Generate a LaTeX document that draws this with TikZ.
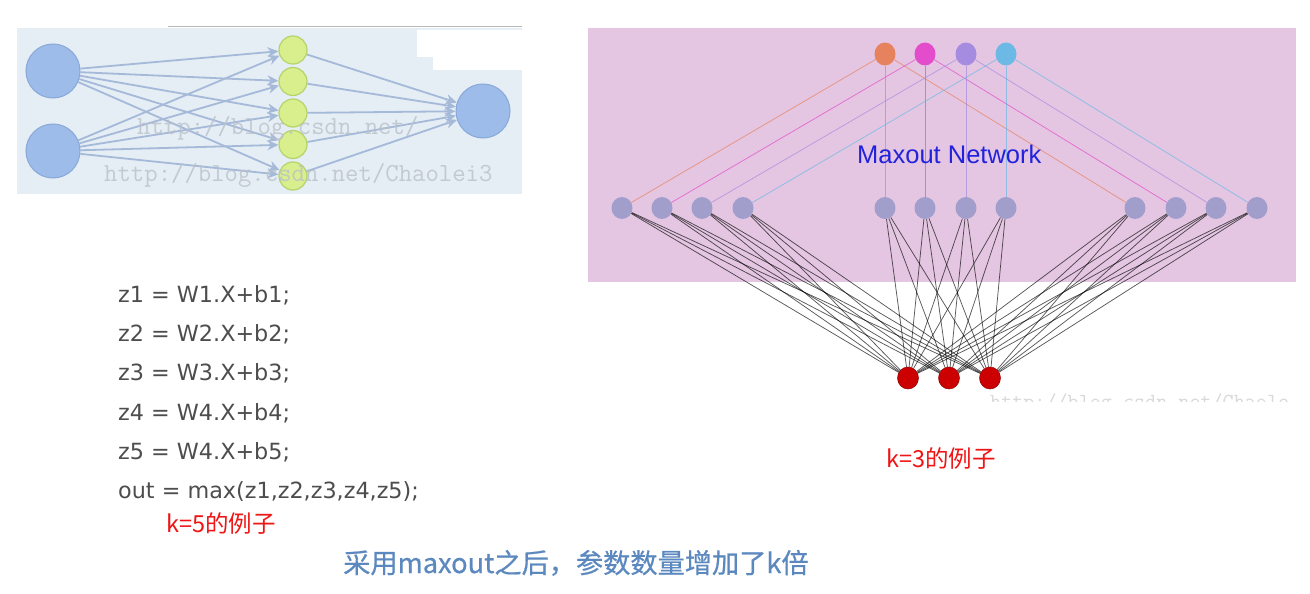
\documentclass[tikz,border=0pt]{standalone}
\usepackage{fontspec}
\setmainfont{DejaVu Sans}
\newfontfamily\cjkfont{Noto Sans CJK SC}
\newfontfamily\cjkbold{Noto Sans CJK SC}[FakeBold=0.6]
\newfontfamily\labelfont{Liberation Sans}
\usetikzlibrary{arrows.meta,shapes.geometric}
\pgfdeclarelayer{back}
\pgfdeclarelayer{edges}
\pgfsetlayers{back,edges,main}
\definecolor{leftbg}{HTML}{E5EDF5}
\definecolor{bluenode}{HTML}{9DBCEA}
\definecolor{bluenodeedge}{HTML}{88A8D8}
\definecolor{greennode}{HTML}{D9EE8C}
\definecolor{greenedge}{HTML}{B4D46A}
\definecolor{arrowcol}{HTML}{A5B9D8}
\definecolor{pinkbg}{HTML}{E4C6E2}
\definecolor{midnode}{HTML}{A19ECB}
\definecolor{cOrange}{HTML}{E7825F}
\definecolor{cMagenta}{HTML}{E34CCB}
\definecolor{cPurple}{HTML}{A58CE0}
\definecolor{cSky}{HTML}{6DB9E6}
\definecolor{rednode}{HTML}{CC0000}
\definecolor{codegray}{HTML}{4D4D4D}
\definecolor{labelred}{HTML}{F01515}
\definecolor{captionblue}{HTML}{5B89BF}
\definecolor{maxoutblue}{HTML}{2222DD}
\definecolor{wm}{HTML}{B9C0C9}
\definecolor{wmright}{HTML}{D9D9D9}
\tikzset{
  bignode/.style={circle,draw=bluenodeedge,fill=bluenode,line width=1pt,minimum size=54pt,inner sep=0pt},
  greenn/.style={circle,draw=greenedge,fill=greennode,line width=1.2pt,minimum size=28pt,inner sep=0pt},
  arr/.style={draw=arrowcol,line width=1.8pt,-{Stealth[length=11pt,width=10pt]}},
  topn/.style={ellipse,minimum width=21pt,minimum height=23pt,inner sep=0pt},
  midn/.style={ellipse,fill=midnode,minimum width=21pt,minimum height=22pt,inner sep=0pt},
  redn/.style={ellipse,fill=rednode,draw=rednode!70!black,line width=0.5pt,minimum width=21pt,minimum height=22pt,inner sep=0pt},
  blackline/.style={draw=black,opacity=0.65,line width=0.75pt},
  colline/.style={line width=0.8pt,opacity=0.7},
  codetext/.style={anchor=base west,inner sep=0pt,text=codegray,font=\fontsize{22.3}{26}\selectfont},
  redlabel/.style={anchor=base west,inner sep=0pt,text=labelred,font=\cjkfont\fontsize{23.5}{28}\selectfont},
  wmtext/.style={anchor=base west,inner sep=0pt,text=wm,opacity=0.8,font=\ttfamily\fontsize{26}{30}\selectfont}
}
\begin{document}
\begin{tikzpicture}[x=1pt,y=-1pt]
\useasboundingbox (0,0) rectangle (1310,594);
\begin{pgfonlayer}{back}
  \fill[white] (0,0) rectangle (1310,594);
  % left panel background
  \fill[leftbg] (17,28) rectangle (522,194);
  \fill[white] (417,30) -- (522,30) -- (522,70) -- (433,70) -- (433,57) -- (417,57) -- cycle;
  \draw[gray!55,line width=1pt] (168,27) -- (522,27);
  % right panel background
  \fill[pinkbg] (588,28) rectangle (1296,282);
\end{pgfonlayer}

% ---------- left network ----------
\node[bignode] (in1) at (53,71) {};
\node[bignode] (in2) at (53,151) {};
\foreach \y [count=\i] in {50,81.5,113,144.5,176}
  \node[greenn] (g\i) at (293,\y) {};
\node[bignode] (out) at (483,111) {};
\begin{pgfonlayer}{edges}
  \foreach \i in {1,...,5} {
    \draw[arr] (in1) -- (g\i);
    \draw[arr] (in2) -- (g\i);
    \draw[arr] (g\i) -- (out);
  }
\end{pgfonlayer}
\node[wmtext] (wm1) at (137,135) {http://blog.csdn.net/};
\node[wmtext] (wm2) at (104,181) {http://blog.csdn.net/Chaolei3};

% ---------- maxout network ----------
\node[topn,fill=cOrange] (t1) at (885,54) {};
\node[topn,fill=cMagenta] (t2) at (925,54) {};
\node[topn,fill=cPurple] (t3) at (966,54) {};
\node[topn,fill=cSky] (t4) at (1006,54) {};
\foreach \x [count=\i] in {622,662,702,743,885,925,966,1006,1135,1176,1216,1257}
  \node[midn] (m\i) at (\x,208) {};
\foreach \x [count=\i] in {908,949,990}
  \node[redn] (r\i) at (\x,378) {};
\begin{pgfonlayer}{edges}
  \foreach \i in {1,...,12}
    \foreach \j in {1,2,3}
      \draw[blackline] (m\i) -- (r\j);
  \foreach \c [count=\i] in {cOrange,cMagenta,cPurple,cSky} {
    \pgfmathtruncatemacro{\a}{\i}
    \pgfmathtruncatemacro{\b}{\i+4}
    \pgfmathtruncatemacro{\d}{\i+8}
    \draw[colline,draw=\c] (t\i) -- (m\a);
    \draw[colline,draw=\c] (t\i) -- (m\b);
    \draw[colline,draw=\c] (t\i) -- (m\d);
  }
\end{pgfonlayer}
\node[anchor=base west,inner sep=0pt,text=maxoutblue,font=\labelfont\fontsize{25.5}{30}\selectfont] (mx) at (857,163) {Maxout Network};
\begin{scope}
  \clip (980,380) rectangle (1310,401);
  \node[anchor=base west,inner sep=0pt,text=wmright,font=\ttfamily\fontsize{21.5}{25}\selectfont] (wm3) at (990,408) {http://blog.csdn.net/Chaole};
\end{scope}

% ---------- texts ----------
\node[codetext] (c1) at (118,302) {z1 = W1.X+b1;};
\node[codetext] (c2) at (118,341) {z2 = W2.X+b2;};
\node[codetext] (c3) at (118,380) {z3 = W3.X+b3;};
\node[codetext] (c4) at (118,420) {z4 = W4.X+b4;};
\node[codetext] (c5) at (118,459) {z5 = W4.X+b5;};
\node[codetext] (c6) at (118,498) {out = max(z1,z2,z3,z4,z5);};
\node[redlabel] (k5) at (166,532) {k=5的例子};
\node[redlabel] (k3) at (886,467) {k=3的例子};
\node[anchor=base west,inner sep=0pt,text=captionblue,font=\cjkbold\fontsize{27.2}{32}\selectfont] (cap) at (343,573) {采用maxout之后，参数数量增加了k倍};
\end{tikzpicture}
\end{document}
